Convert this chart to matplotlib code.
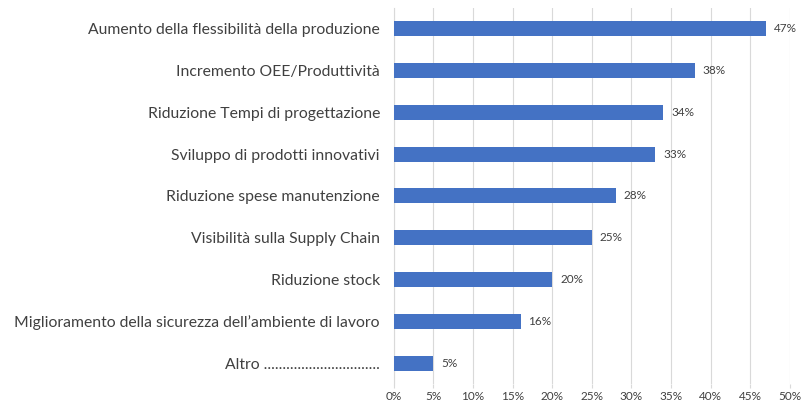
import matplotlib
matplotlib.use("Agg")
import matplotlib.pyplot as plt

categories = [
    "Aumento della flessibilità della produzione",
    "Incremento OEE/Produttività",
    "Riduzione Tempi di progettazione",
    "Sviluppo di prodotti innovativi",
    "Riduzione spese manutenzione",
    "Visibilità sulla Supply Chain",
    "Riduzione stock",
    "Miglioramento della sicurezza dell’ambiente di lavoro",
    "Altro ...............................",
]
values = [47, 38, 34, 33, 28, 25, 20, 16, 5]
xticks = list(range(0, 55, 5))

BLUE, GRID, TXT = "#4472c4", "#d9d9d9", "#404040"
plt.rcParams.update({"font.family": ["Lato", "DejaVu Sans"]})

fig = plt.figure(figsize=(8.02, 4.07), dpi=100)
ax = fig.add_axes([0.491, 0.0565, 0.494, 0.924])
ypos = list(range(len(categories)))[::-1]
ax.barh(ypos, values, height=0.36, color=BLUE, zorder=3)
for y, v in zip(ypos, values):
    ax.text(v + 1.0, y, f"{v}%", va="center", ha="left", fontsize=8.5, color=TXT)

ax.set_xlim(0, 50)
ax.set_ylim(-0.5, len(categories) - 0.5)
ax.set_yticks(ypos)
ax.set_yticklabels(categories, fontsize=11.3, color=TXT)
ax.set_xticks(xticks)
ax.set_xticklabels([f"{t}%" for t in xticks], fontsize=8.5, color=TXT)
ax.tick_params(axis="y", length=0, pad=10)
ax.tick_params(axis="x", length=3, color=GRID, pad=2)
ax.grid(axis="x", color=GRID, lw=0.8, zorder=0)
for s in ["top", "right", "bottom"]:
    ax.spines[s].set_visible(False)
ax.spines["left"].set_color(GRID)
fig.savefig("out.png", dpi=100)
